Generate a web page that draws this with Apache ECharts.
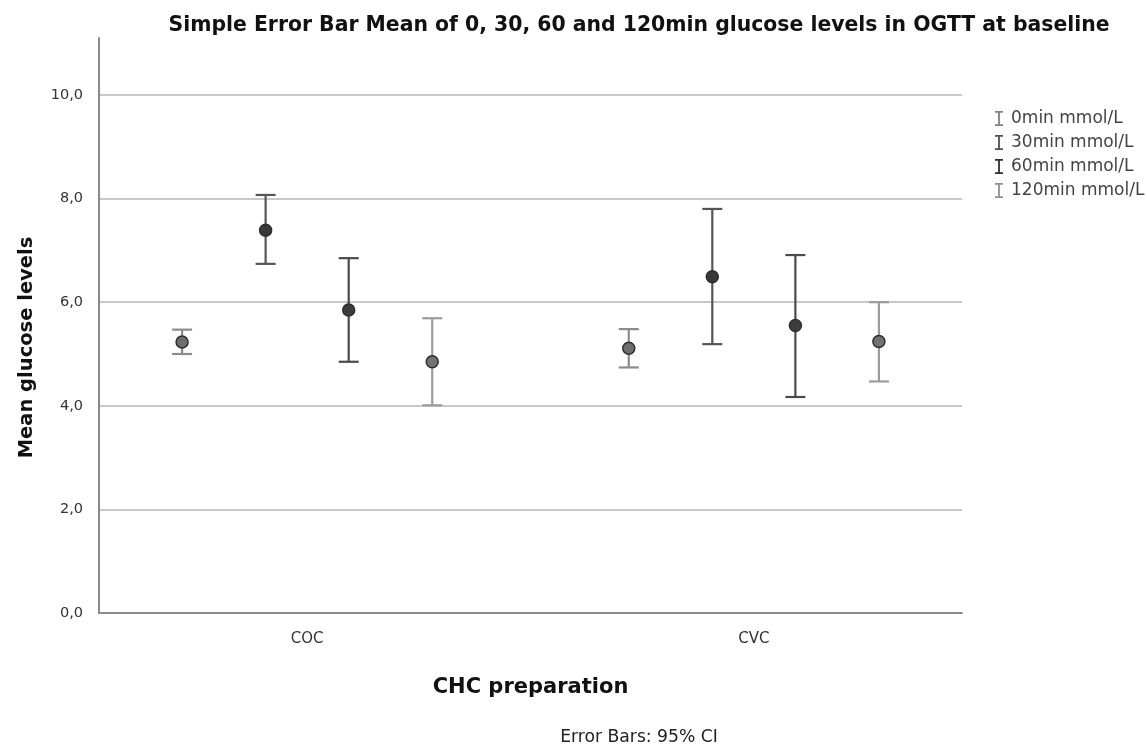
<!DOCTYPE html>
<html>
<head>
<meta charset="utf-8">
<script src="https://cdn.jsdelivr.net/npm/echarts@6/dist/echarts.min.js"></script>
<style>
html,body{margin:0;padding:0;background:#fff;}
#chart{width:1147px;height:751px;}
</style>
</head>
<body>
<div id="chart"></div>
<script>
// ---- data ----
const categories = ['COC', 'CVC'];
const timeLabels = ['0min mmol/L', '30min mmol/L', '60min mmol/L', '120min mmol/L'];
const meanCOC = [5.23, 7.39, 5.85, 4.85];
const lowCOC  = [5.00, 6.74, 4.85, 4.01];
const highCOC = [5.47, 8.07, 6.85, 5.69];
const meanCVC = [5.11, 6.49, 5.55, 5.24];
const lowCVC  = [4.74, 5.19, 4.17, 4.47];
const highCVC = [5.48, 7.80, 6.91, 6.00];
const yTicks = [0, 2, 4, 6, 8, 10];

// ---- styling ----
const dodge = [-0.28, -0.093, 0.093, 0.28];
const barColors = ['#8c8c8c', '#555555', '#4a4a4a', '#9c9c9c'];
const markerColors = ['#6e6e6e', '#383838', '#3c3c3c', '#727272'];
const legendColors = ['#808080', '#505050', '#303030', '#909090'];
const FONT = 'DejaVu Sans';

const means = [meanCOC, meanCVC], lows = [lowCOC, lowCVC], highs = [highCOC, highCVC];

const series = timeLabels.map((name, si) => ({
  name: name,
  type: 'custom',
  itemStyle: { color: legendColors[si] },
  data: categories.map((c, gi) => [gi + dodge[si], means[gi][si], lows[gi][si], highs[gi][si]]),
  renderItem: function (params, api) {
    const x = api.value(0);
    const pm = api.coord([x, api.value(1)]);
    const pl = api.coord([x, api.value(2)]);
    const ph = api.coord([x, api.value(3)]);
    const cap = 10;
    const ls = { stroke: barColors[si], lineWidth: 2.2 };
    return {
      type: 'group',
      children: [
        { type: 'line', shape: { x1: pl[0], y1: pl[1], x2: ph[0], y2: ph[1] }, style: ls },
        { type: 'line', shape: { x1: ph[0] - cap, y1: ph[1], x2: ph[0] + cap, y2: ph[1] }, style: ls },
        { type: 'line', shape: { x1: pl[0] - cap, y1: pl[1], x2: pl[0] + cap, y2: pl[1] }, style: ls },
        { type: 'circle', shape: { cx: pm[0], cy: pm[1], r: 6 },
          style: { fill: markerColors[si], stroke: '#2e2e2e', lineWidth: 1.5 } }
      ]
    };
  }
}));

const chart = echarts.init(document.getElementById('chart'), null, { renderer: 'canvas' });
chart.setOption({
  backgroundColor: '#ffffff',
  animation: false,
  textStyle: { fontFamily: FONT },
  title: [
    {
      text: 'Simple Error Bar Mean of 0, 30, 60 and 120min glucose levels in OGTT at baseline',
      left: 639, top: 16, textAlign: 'center', padding: 0,
      textStyle: { fontFamily: FONT, fontSize: 20.4, fontWeight: 'bold', color: '#111' }
    },
    {
      text: 'Error Bars: 95% CI',
      left: 639, top: 729, textAlign: 'center', padding: 0,
      textStyle: { fontFamily: FONT, fontSize: 17.2, fontWeight: 'normal', color: '#222' }
    }
  ],
  legend: {
    orient: 'vertical',
    left: 990, top: 105,
    itemWidth: 8, itemHeight: 15, itemGap: 7,
    icon: 'path://M0,0H8V1.8H4.9V13.2H8V15H0V13.2H3.1V1.8H0Z',
    textStyle: { fontFamily: FONT, fontSize: 17, color: '#444', padding: [0, 0, 0, 3] },
    data: timeLabels
  },
  grid: { left: 99, right: 185, top: 38, bottom: 138, containLabel: false },
  xAxis: {
    type: 'value',
    min: -0.466, max: 1.466,
    name: 'CHC preparation',
    nameLocation: 'middle',
    nameGap: 64,
    nameTextStyle: { fontFamily: FONT, fontSize: 21, fontWeight: 'bold', color: '#111' },
    axisLine: { show: true, onZero: false, lineStyle: { color: '#8a8a8a', width: 2 } },
    axisTick: { show: false },
    splitLine: { show: false },
    axisLabel: {
      customValues: [0, 1],
      formatter: v => categories[Math.round(v)],
      margin: 19,
      fontFamily: FONT, fontSize: 15, color: '#333'
    }
  },
  yAxis: {
    type: 'value',
    min: 0, max: 11.1, interval: 2,
    name: 'Mean glucose levels',
    nameLocation: 'middle',
    nameGap: 62,
    nameRotate: 90,
    nameTextStyle: { fontFamily: FONT, fontSize: 19.5, fontWeight: 'bold', color: '#111', padding: [0, 44, 0, 0] },
    axisLine: { show: true, onZero: false, lineStyle: { color: '#8a8a8a', width: 2 } },
    axisTick: { show: false },
    splitLine: { show: true, showMaxLine: false, lineStyle: { color: '#c8c8c8', width: 2 } },
    axisLabel: {
      showMaxLabel: false,
      formatter: v => (yTicks.indexOf(v) >= 0 ? v.toFixed(1).replace('.', ',') : ''),
      margin: 16,
      fontFamily: FONT, fontSize: 14.5, color: '#333'
    }
  },
  series: series
});
</script>
</body>
</html>
